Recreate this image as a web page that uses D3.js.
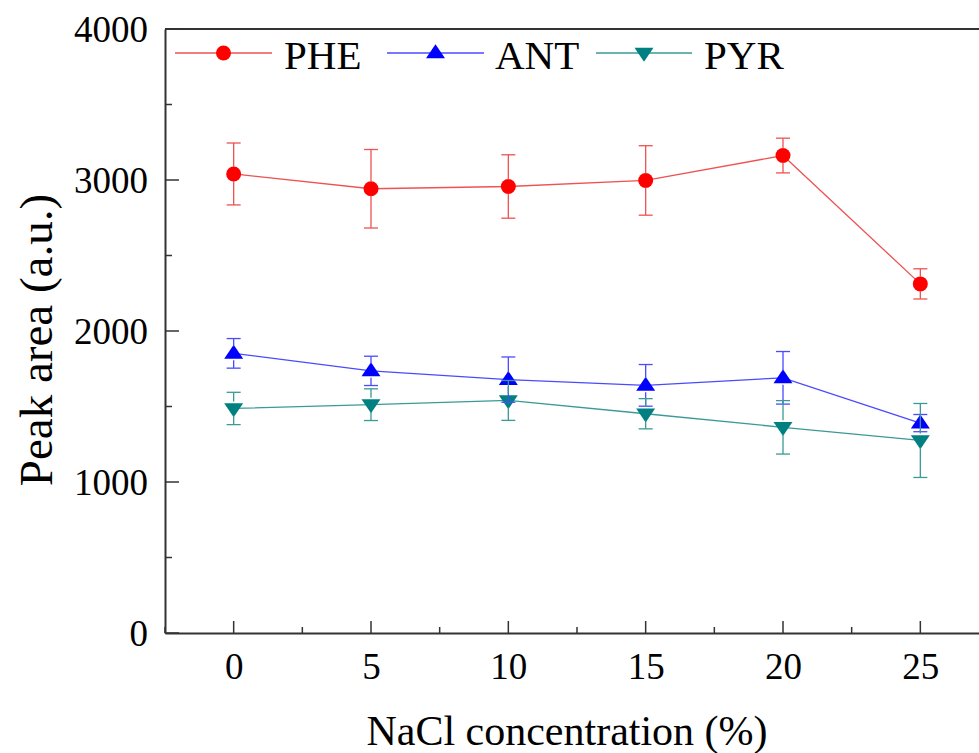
<!DOCTYPE html>
<html>
<head>
<meta charset="utf-8">
<script src="https://cdn.jsdelivr.net/npm/d3@7"></script>
<style>
  html, body { margin: 0; padding: 0; background: #fff; }
</style>
</head>
<body>
<svg id="chart" width="979" height="753"></svg>
<script>
// NaCl concentration (%) on the x axis
const concentrations = [0, 5, 10, 15, 20, 25];

// Mean peak areas and their error bars for each compound
const pheValues = [3040, 2942, 2957, 2997, 3162, 2312];
const pheErrors = [205, 260, 210, 230, 115, 100];
const antValues = [1852, 1736, 1678, 1640, 1690, 1390];
const antErrors = [98, 97, 150, 138, 174, 57];
const pyrValues = [1487, 1512, 1540, 1452, 1362, 1275];
const pyrErrors = [107, 105, 132, 100, 177, 245];

const seriesNames = ["PHE", "ANT", "PYR"];
const xTickValues = [0, 5, 10, 15, 20, 25];
const yTickValues = [0, 1000, 2000, 3000, 4000];

const series = [
  { name: seriesNames[0], values: pheValues, errors: pheErrors, line: "#ee5252", fill: "#ff0000", shape: "circle" },
  { name: seriesNames[1], values: antValues, errors: antErrors, line: "#4a4aff", fill: "#0000ff", shape: "up" },
  { name: seriesNames[2], values: pyrValues, errors: pyrErrors, line: "#3a9a96", fill: "#008080", shape: "down" }
];

const FONT = "'Liberation Serif', Tinos, 'Times New Roman', Times, 'DejaVu Serif', serif";

const svg = d3.select("#chart");
const plotLeft = 165, plotTop = 29, plotRight = 989, plotBottom = 633;

const x = d3.scaleLinear().domain([-2.5, 27.5]).range([plotLeft, plotRight]);
const y = d3.scaleLinear().domain([0, 4000]).range([plotBottom, plotTop]);

const axisColor = "#333";

// Frame: top edge (left and bottom come from the axes)
svg.append("line").attr("x1", plotLeft).attr("x2", plotRight).attr("y1", plotTop).attr("y2", plotTop)
  .attr("stroke", axisColor).attr("stroke-width", 2);

// Y axis with inward major and minor ticks
const yAxis = svg.append("g").attr("transform", `translate(${plotLeft},0)`)
  .call(d3.axisLeft(y).tickValues(yTickValues).tickSize(0).tickPadding(17).tickFormat(d3.format("d")));
yAxis.attr("font-family", null);
yAxis.select(".domain").attr("stroke", axisColor).attr("stroke-width", 2);
yAxis.selectAll("text").style("font-family", FONT).style("font-size", "37px").attr("fill", "#000").attr("dy", "0.34em");
svg.append("g").selectAll("line").data(d3.range(0, 4001, 500)).join("line")
  .attr("x1", plotLeft).attr("x2", d => plotLeft + (d % 1000 === 0 ? 14 : 7))
  .attr("y1", d => y(d)).attr("y2", d => y(d))
  .attr("stroke", axisColor).attr("stroke-width", 1.5);

// X axis with inward major and minor ticks
const xAxis = svg.append("g").attr("transform", `translate(0,${plotBottom})`)
  .call(d3.axisBottom(x).tickValues(xTickValues).tickSize(0).tickPadding(20).tickFormat(d3.format("d")));
xAxis.attr("font-family", null);
xAxis.select(".domain").attr("stroke", axisColor).attr("stroke-width", 2);
xAxis.selectAll("text").style("font-family", FONT).style("font-size", "37px").attr("fill", "#000");
svg.append("g").selectAll("line").data(d3.range(-2.5, 27.6, 2.5)).join("line")
  .attr("x1", d => x(d)).attr("x2", d => x(d))
  .attr("y1", plotBottom).attr("y2", d => plotBottom - (d % 5 === 0 ? 12 : 6))
  .attr("stroke", axisColor).attr("stroke-width", 1.5);

// Axis titles
svg.append("text").attr("x", 567).attr("y", 745).attr("text-anchor", "middle")
  .style("font-family", FONT).style("font-size", "42px").text("NaCl concentration (%)");
svg.append("text").attr("transform", "translate(52,340) rotate(-90)").attr("text-anchor", "middle")
  .style("font-family", FONT).style("font-size", "47px").text("Peak area (a.u.)");

// Marker shapes
function marker(g, shape, cx, cy, fill) {
  if (shape === "circle") {
    g.append("circle").attr("cx", cx).attr("cy", cy).attr("r", 7.5).attr("fill", fill);
  } else {
    const w = 9.5, h = 14, s = shape === "up" ? -1 : 1;
    const pts = [[cx, cy + s * h * 0.62], [cx - w, cy - s * h * 0.38], [cx + w, cy - s * h * 0.38]];
    g.append("path").attr("d", "M" + pts.map(p => p.join(",")).join("L") + "Z").attr("fill", fill);
  }
}

const line = d3.line().x((d, i) => x(concentrations[i])).y(d => y(d));
const plot = svg.append("g");

// Connecting lines
series.forEach(s => {
  plot.append("path").datum(s.values).attr("d", line)
    .attr("fill", "none").attr("stroke", s.line).attr("stroke-width", 1.3);
});

// Markers
series.forEach(s => {
  s.values.forEach((v, i) => marker(plot, s.shape, x(concentrations[i]), y(v), s.fill));
});

// Error bars, leaving a gap across each series' own marker
const gap = 7;
series.forEach(s => {
  const g = plot.append("g").attr("stroke", s.line).attr("stroke-width", 1.3);
  s.values.forEach((v, i) => {
    const cx = x(concentrations[i]);
    const yt = y(v + s.errors[i]), yb = y(v - s.errors[i]), yc = y(v);
    if (yc - gap > yt) g.append("line").attr("x1", cx).attr("x2", cx).attr("y1", yt).attr("y2", yc - gap);
    if (yc + gap < yb) g.append("line").attr("x1", cx).attr("x2", cx).attr("y1", yc + gap).attr("y2", yb);
    [yt, yb].forEach(yy => g.append("line").attr("x1", cx - 7).attr("x2", cx + 7).attr("y1", yy).attr("y2", yy));
  });
});

// Legend across the top of the plot
const legendY = 53;
const legendItems = [
  { x0: 175, x1: 272, tx: 284 },
  { x0: 387, x1: 484, tx: 495 },
  { x0: 596, x1: 692, tx: 704 }
];
series.forEach((s, i) => {
  const it = legendItems[i];
  svg.append("line").attr("x1", it.x0).attr("x2", it.x1).attr("y1", legendY).attr("y2", legendY)
    .attr("stroke", s.line).attr("stroke-width", 1.3);
  marker(svg, s.shape, (it.x0 + it.x1) / 2, legendY, s.fill);
  svg.append("text").attr("x", it.tx).attr("y", legendY + 16)
    .style("font-family", FONT).style("font-size", "41px").text(s.name);
});
</script>
</body>
</html>
